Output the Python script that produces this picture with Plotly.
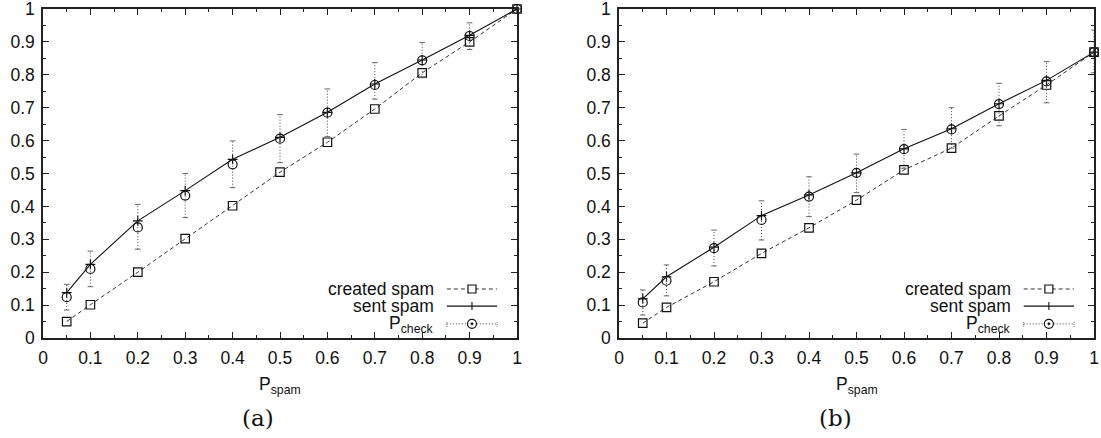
import plotly.graph_objects as go
from plotly.subplots import make_subplots

# ---------------- data ----------------
p_spam = [0.05, 0.1, 0.2, 0.3, 0.4, 0.5, 0.6, 0.7, 0.8, 0.9, 1.0]

created_a = [0.050, 0.101, 0.200, 0.302, 0.402, 0.504, 0.595, 0.696, 0.806, 0.900, 1.0]
sent_a = [0.138, 0.224, 0.356, 0.448, 0.543, 0.610, 0.686, 0.772, 0.845, 0.920, 1.0]
pcheck_a = [0.124, 0.210, 0.336, 0.433, 0.528, 0.606, 0.685, 0.769, 0.844, 0.918, 1.0]
pcheck_a_lo = [0.085, 0.156, 0.270, 0.366, 0.457, 0.533, 0.612, 0.726, 0.791, 0.877, 1.0]
pcheck_a_hi = [0.163, 0.264, 0.406, 0.500, 0.599, 0.679, 0.757, 0.837, 0.898, 0.958, 1.0]

created_b = [0.045, 0.093, 0.171, 0.257, 0.335, 0.419, 0.511, 0.577, 0.675, 0.769, 0.869]
sent_b = [0.119, 0.186, 0.276, 0.372, 0.435, 0.502, 0.575, 0.636, 0.712, 0.783, 0.869]
pcheck_b = [0.108, 0.174, 0.273, 0.359, 0.430, 0.502, 0.574, 0.634, 0.711, 0.780, 0.869]
pcheck_b_lo = [0.070, 0.128, 0.219, 0.298, 0.369, 0.442, 0.516, 0.577, 0.645, 0.715, 0.806]
pcheck_b_hi = [0.146, 0.222, 0.328, 0.417, 0.490, 0.559, 0.634, 0.700, 0.774, 0.840, 0.936]

tick_vals = [0, 0.1, 0.2, 0.3, 0.4, 0.5, 0.6, 0.7, 0.8, 0.9, 1]
tick_text = ["0", "0.1", "0.2", "0.3", "0.4", "0.5", "0.6", "0.7", "0.8", "0.9", "1"]

legend_labels = ["created spam", "sent spam", "P<sub>check</sub>"]
captions = ["(a)", "(b)"]
x_title = "P<sub>spam</sub>"

# ---------------- figure ----------------
W, H = 1101, 438
FONT = "Liberation Sans, Arial, Helvetica, sans-serif"
AX = "#222222"
FS = 17.5

fig = make_subplots(rows=1, cols=2, horizontal_spacing=0.05)

dom_x = [[43 / W, 517 / W], [619 / W, 1094 / W]]
dom_y = [(H - 338) / H, (H - 9) / H]

panels = [
    (created_a, sent_a, pcheck_a, pcheck_a_lo, pcheck_a_hi),
    (created_b, sent_b, pcheck_b, pcheck_b_lo, pcheck_b_hi),
]

for i, (cr, se, pc, lo, hi) in enumerate(panels):
    col = i + 1
    # created spam
    fig.add_trace(go.Scatter(
        x=p_spam, y=cr, mode="lines+markers", name="created spam",
        line=dict(color="#333333", width=1, dash="4px,3px"),
        marker=dict(symbol="square-open", size=8.5, color="#111111", line=dict(width=1.2)),
        cliponaxis=False, showlegend=False), row=1, col=col)
    # sent spam
    fig.add_trace(go.Scatter(
        x=p_spam, y=se, mode="lines+markers", name="sent spam",
        line=dict(color="#111111", width=1.1),
        marker=dict(symbol="cross-thin-open", size=7, color="#111111", line=dict(width=1.2)),
        cliponaxis=False, showlegend=False), row=1, col=col)
    # error bars (dotted)
    ex, ey = [], []
    for xv, l, h in zip(p_spam, lo, hi):
        if h > l:
            ex += [xv, xv, None]
            ey += [l, h, None]
    fig.add_trace(go.Scatter(
        x=ex, y=ey, mode="lines", line=dict(color="#444444", width=1, dash="1px,2px"),
        hoverinfo="skip", showlegend=False), row=1, col=col)
    cx = [xv for xv, l, h in zip(p_spam, lo, hi) if h > l]
    fig.add_trace(go.Scatter(
        x=cx + cx, y=[l for l, h in zip(lo, hi) if h > l] + [h for l, h in zip(lo, hi) if h > l],
        mode="markers", marker=dict(symbol="line-ew-open", size=4, color="#666666", line=dict(width=1)),
        hoverinfo="skip", showlegend=False), row=1, col=col)
    # P_check
    fig.add_trace(go.Scatter(
        x=p_spam, y=pc, mode="markers", name="P_check",
        marker=dict(symbol="circle-open", size=9, color="#111111", line=dict(width=1.2)),
        cliponaxis=False, showlegend=False), row=1, col=col)

axis_common = dict(
    range=[0, 1], tickvals=tick_vals, ticktext=tick_text,
    ticks="inside", ticklen=6, tickwidth=1, tickcolor=AX,
    showline=True, linecolor=AX, linewidth=1.5, mirror="ticks",
    showgrid=False, zeroline=False, automargin=False, ticklabeloverflow="allow",
    tickfont=dict(family=FONT, size=FS, color="#111111"),
    minor=dict(dtick=0.05, ticks="inside", ticklen=3, tickcolor=AX, tickwidth=1, showgrid=False),
)

for i in range(2):
    xa = "xaxis" if i == 0 else "xaxis2"
    ya = "yaxis" if i == 0 else "yaxis2"
    fig.layout[xa].update(domain=dom_x[i], ticklabelstandoff=3, **axis_common)
    fig.layout[ya].update(domain=dom_y, ticklabelstandoff=3, **axis_common)

annotations = []
shapes = []
row_y = [0.149, 0.097, 0.040]
for i in range(2):
    xr = "x domain" if i == 0 else "x2 domain"
    yr = "y domain" if i == 0 else "y2 domain"
    # legend text
    for lab, ry in zip(legend_labels, row_y):
        annotations.append(dict(
            xref=xr, yref=yr, x=0.829, y=ry, xanchor="right", yanchor="middle",
            text=lab, showarrow=False, font=dict(family=FONT, size=FS, color="#111111")))
    xs0, xs1, xm = 0.852, 0.958, 0.905
    sy = [0.149, 0.097, 0.043]
    # created spam sample
    shapes.append(dict(type="line", xref=xr, yref=yr, x0=xs0, x1=xs1, y0=sy[0], y1=sy[0],
                       line=dict(color="#333333", width=1, dash="4px,3px")))
    shapes.append(dict(type="rect", xref=xr, yref=yr, xsizemode="pixel", ysizemode="pixel",
                       xanchor=xm, yanchor=sy[0], x0=-4, x1=4, y0=-4, y1=4,
                       line=dict(color="#111111", width=1.2), fillcolor="white"))
    # sent spam sample
    shapes.append(dict(type="line", xref=xr, yref=yr, x0=xs0, x1=xs1, y0=sy[1], y1=sy[1],
                       line=dict(color="#111111", width=1.1)))
    shapes.append(dict(type="line", xref=xr, yref=yr, xsizemode="pixel", ysizemode="pixel",
                       xanchor=xm, yanchor=sy[1], x0=0, x1=0, y0=-4, y1=4,
                       line=dict(color="#111111", width=1.1)))
    # P_check sample
    shapes.append(dict(type="line", xref=xr, yref=yr, x0=xs0, x1=xs1, y0=sy[2], y1=sy[2],
                       line=dict(color="#444444", width=1, dash="1px,2px")))
    for ex_ in (xs0, xs1):
        shapes.append(dict(type="line", xref=xr, yref=yr, xsizemode="pixel", ysizemode="pixel",
                           xanchor=ex_, yanchor=sy[2], x0=0, x1=0, y0=-3, y1=3,
                           line=dict(color="#666666", width=1, dash="1px,1px")))
    shapes.append(dict(type="circle", xref=xr, yref=yr, xsizemode="pixel", ysizemode="pixel",
                       xanchor=xm, yanchor=sy[2], x0=-4.5, x1=4.5, y0=-4.5, y1=4.5,
                       line=dict(color="#111111", width=1.2), fillcolor="white"))
    shapes.append(dict(type="circle", xref=xr, yref=yr, xsizemode="pixel", ysizemode="pixel",
                       xanchor=xm, yanchor=sy[2], x0=-1, x1=1, y0=-1, y1=1,
                       line=dict(color="#111111", width=1), fillcolor="#111111"))
    # x title
    annotations.append(dict(
        xref="paper", yref="paper", x=(dom_x[i][0] + dom_x[i][1]) / 2, y=(H - 372) / H,
        xanchor="center", yanchor="top", text=x_title, showarrow=False,
        font=dict(family=FONT, size=FS, color="#111111")))
    # caption
    cap_x = [258 / W, 835.5 / W][i]
    annotations.append(dict(
        xref="paper", yref="paper", x=cap_x, y=(H - 418) / H,
        xanchor="center", yanchor="middle", text=captions[i], showarrow=False,
        font=dict(family="DejaVu Serif, Liberation Serif, serif", size=23, color="#111111")))

fig.update_layout(
    width=W, height=H, margin=dict(l=0, r=0, t=0, b=0, autoexpand=False),
    paper_bgcolor="white", plot_bgcolor="white",
    annotations=annotations, shapes=shapes, showlegend=False,
    font=dict(family=FONT, size=FS, color="#111111"),
)

fig.write_html("out.html")
